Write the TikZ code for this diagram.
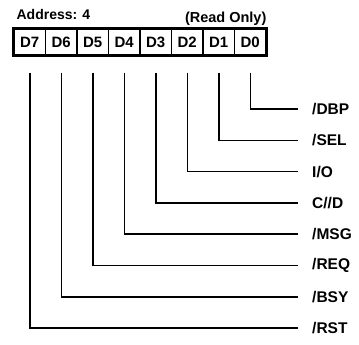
\documentclass[tikz,border=0pt]{standalone}
\usepackage{fontspec}
\setmainfont{Liberation Sans}
\usetikzlibrary{matrix,calc,positioning}

\begin{document}
\begin{tikzpicture}[x=1pt,y=1pt,
  bitcell/.style={draw,line width=1.2pt,minimum width=31.5pt,minimum height=26pt,
                  inner sep=0pt,font=\bfseries\fontsize{15}{17}\selectfont},
  sig/.style={anchor=west,inner sep=0pt,font=\bfseries\fontsize{15.5}{17}\selectfont},
  wire/.style={line width=1.5pt}]
  \useasboundingbox (0,0) rectangle (359,-345);
%
  \matrix[matrix of nodes,nodes={bitcell},column sep={31.5pt,between origins},
          draw,line width=2pt,inner sep=0pt] (reg) at (140,-42) {
%
  D7 & D6 & D5 & D4 & D3 & D2 & D1 & D0 \\
%
  } ;
%
  \node [anchor=west,inner sep=0pt,font=\bfseries\fontsize{14}{16}\selectfont]
        (addr) at ($(reg.north west)+(4,13)$) {Address: 4} ;
  \node [anchor=east,inner sep=0pt,font=\bfseries\fontsize{14.5}{16}\selectfont]
        (ro) at ($(reg.north east)+(-1,9)$) {(Read Only)} ;
%
  \foreach \txt [count=\i, evaluate=\i as \col using int(9-\i)] in
      {{/DBP},{/SEL},{I/O},{C//D},{/MSG},{/REQ},{/BSY},{/RST}} {
    \node [sig] (sig\i) at (312,{-109-31.3*(\i-1)}) {\txt} ;
    \draw [wire] ($(reg-1-\col.south)+(0,-17)$) |- ($(sig\i.west)+(-14,0)$) ;
  }
\end{tikzpicture}
\end{document}
